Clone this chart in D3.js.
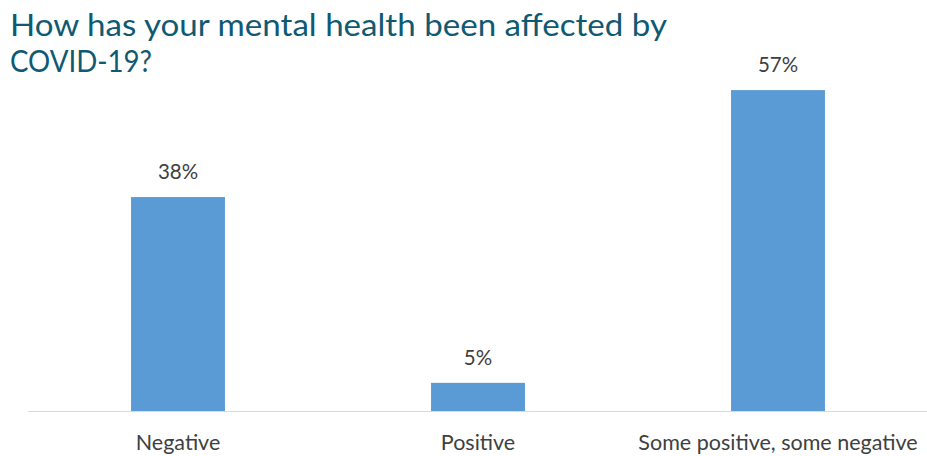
<!DOCTYPE html>
<html><head><meta charset="utf-8">
<script src="https://cdn.jsdelivr.net/npm/d3@7"></script>
<style>body{margin:0;background:#fff}svg{display:block}</style>
</head><body>
<svg id="c" width="927" height="456"></svg>
<script>
const categories = ["Negative", "Positive", "Some positive, some negative"];
const values = [38, 5, 57];
const titleLines = ["How has your mental health been affected by", "COVID-19?"];

const W = 927, H = 456;
const svg = d3.select("#c");
const x = d3.scaleBand().domain(categories).range([28, 928]).paddingInner(0.687).paddingOuter(0.3435);
const y = d3.scaleLinear().domain([0, 60]).range([411, 411 - 60 * 5.63]);

// title
const tw = [657, 142];
svg.selectAll("text.title").data(titleLines).join("text")
  .attr("class", "title")
  .attr("x", 10).attr("y", (d, i) => 36 + i * 36)
  .attr("font-family", "Lato, 'Open Sans', sans-serif")
  .attr("font-size", 30)
  .attr("fill", "#0f5a72")
  .attr("textLength", (d, i) => tw[i]).attr("lengthAdjust", "spacingAndGlyphs")
  .text(d => d);

// baseline
svg.append("line").attr("x1", 28).attr("x2", 927).attr("y1", y(0) + 0.5).attr("y2", y(0) + 0.5)
  .attr("stroke", "#d9d9d9").attr("stroke-width", 1);

// bars
svg.selectAll("rect.bar").data(values).join("rect")
  .attr("class", "bar")
  .attr("x", (d, i) => x(categories[i]))
  .attr("width", x.bandwidth())
  .attr("y", d => y(d))
  .attr("height", d => y(0) - y(d))
  .attr("fill", "#5b9bd5");

// value labels
svg.selectAll("text.val").data(values).join("text")
  .attr("class", "val")
  .attr("x", (d, i) => x(categories[i]) + x.bandwidth() / 2)
  .attr("y", d => y(d) - 18)
  .attr("text-anchor", "middle")
  .attr("font-family", "Lato, 'Open Sans', sans-serif")
  .attr("font-size", 20.5)
  .attr("fill", "#404040")
  .text(d => d + "%");

// axis labels
const xAxis = d3.axisBottom(x).tickSize(0).tickPadding(24);
const g = svg.append("g").attr("transform", `translate(0,${y(0)})`).call(xAxis);
g.select(".domain").remove();
g.selectAll("text")
  .attr("font-family", "Lato, 'Open Sans', sans-serif")
  .attr("font-size", 21.5)
  .attr("fill", "#404040");
</script>
</body></html>
